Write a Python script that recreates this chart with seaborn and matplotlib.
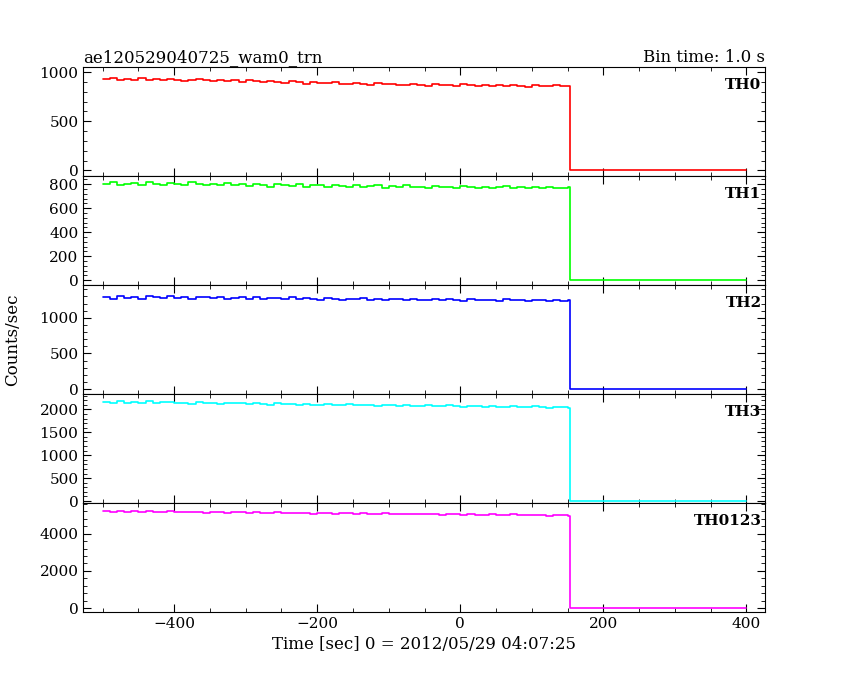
import numpy as np
import pandas as pd
import matplotlib
matplotlib.use("Agg")
import matplotlib.pyplot as plt
import seaborn as sns
from matplotlib.ticker import AutoMinorLocator

sns.set_style("ticks")
plt.rcParams['font.family'] = ['DejaVu Serif']
for k in ["text.color", "axes.labelcolor", "xtick.color", "ytick.color", "axes.edgecolor"]:
    plt.rcParams[k] = "black"

names = ["TH0", "TH1", "TH2", "TH3", "TH0123"]
colors = ["#ff0000", "#00ff00", "#0000ff", "#00ffff", "#ff00ff"]
th0 = [930,945,920,935,925,940,915,930,925,935,920,910,925,930,915,905,920,910,925,900,915,905,895,910,900,890,905,895,880,900,890,885,895,880,875,890,880,870,885,875,880,870,865,880,870,860,875,865,870,860,875,865,855,870,860,865,855,870,860,850,865,855,860,870,855,860]
th1 = [800,815,790,805,810,795,820,800,790,810,805,795,815,800,790,805,795,810,790,800,785,805,795,780,800,790,785,800,780,795,790,775,795,785,780,790,775,785,795,770,785,780,790,775,780,770,785,775,780,770,785,775,770,780,765,775,785,770,775,765,780,770,775,765,770,775]
th2 = [1290,1270,1300,1280,1295,1265,1310,1285,1275,1300,1280,1290,1270,1295,1285,1275,1290,1265,1280,1295,1270,1285,1260,1280,1275,1265,1285,1260,1275,1270,1255,1280,1265,1250,1270,1260,1275,1255,1265,1250,1270,1260,1245,1265,1255,1250,1260,1245,1265,1250,1240,1260,1250,1245,1255,1240,1260,1245,1250,1240,1255,1245,1235,1250,1240,1245]
th3 = [2170,2150,2180,2140,2160,2130,2175,2145,2155,2170,2140,2150,2125,2160,2135,2145,2120,2150,2130,2140,2115,2135,2125,2105,2130,2110,2120,2100,2125,2105,2095,2115,2100,2090,2110,2095,2085,2105,2080,2100,2090,2075,2095,2080,2070,2090,2075,2065,2085,2070,2060,2080,2065,2055,2075,2060,2050,2070,2055,2045,2065,2050,2040,2060,2045,2035]
th0123 = [5200,5180,5230,5190,5210,5170,5220,5185,5160,5200,5175,5150,5190,5165,5140,5180,5155,5130,5170,5145,5120,5160,5135,5110,5150,5125,5100,5140,5115,5090,5130,5105,5080,5120,5095,5070,5110,5085,5060,5100,5075,5050,5090,5065,5040,5080,5055,5030,5070,5045,5020,5060,5035,5010,5050,5025,5000,5040,5015,4990,5030,5005,4980,5020,4995,4970]
series = [th0, th1, th2, th3, th0123]
ylims = [(-59, 1049), (-42, 867), (-71, 1457), (-44, 2333), (-213, 5653)]
yticks = [[0,500,1000],[0,200,400,600,800],[0,500,1000],[0,500,1000,1500,2000],[0,2000,4000]]

fig, axes = plt.subplots(5, 1, figsize=(8.5, 6.8), dpi=100, sharex=True)
fig.subplots_adjust(left=0.098, right=0.9, top=0.901, bottom=0.1, hspace=0)
for ax, name, col, vals, yl, yt in zip(axes, names, colors, series, ylims, yticks):
    t = list(-500 + 10*np.arange(len(vals))) + [153, 400]
    v = list(vals) + [3, 3]
    df = pd.DataFrame({"t": t, "v": v})
    sns.lineplot(data=df, x="t", y="v", ax=ax, color=col, lw=1.2, drawstyle="steps-post")
    ax.set_xlim(-527, 426)
    ax.set_ylim(*yl)
    ax.set_yticks(yt)
    ax.set_xticks([-400, -200, 0, 200, 400])
    ax.xaxis.set_minor_locator(AutoMinorLocator(4))
    ax.yaxis.set_minor_locator(AutoMinorLocator(5))
    ax.tick_params(which="both", direction="in", top=True, right=True, labelsize=11)
    ax.tick_params(which="major", length=6)
    ax.tick_params(which="minor", length=3)
    ax.set_xlabel(""); ax.set_ylabel("")
    ax.text(0.995, 0.9, name, transform=ax.transAxes, ha="right", va="top", fontsize=11, fontweight="bold")
axes[0].set_title("ae120529040725_wam0_trn", loc="left", fontsize=12, pad=4)
axes[0].set_title("Bin time: 1.0 s", loc="right", fontsize=12, pad=4)
axes[-1].set_xlabel("Time [sec] 0 = 2012/05/29 04:07:25", fontsize=12)
fig.text(0.015, 0.5, "Counts/sec", rotation=90, va="center", ha="center", fontsize=12)
fig.savefig("out.png")
